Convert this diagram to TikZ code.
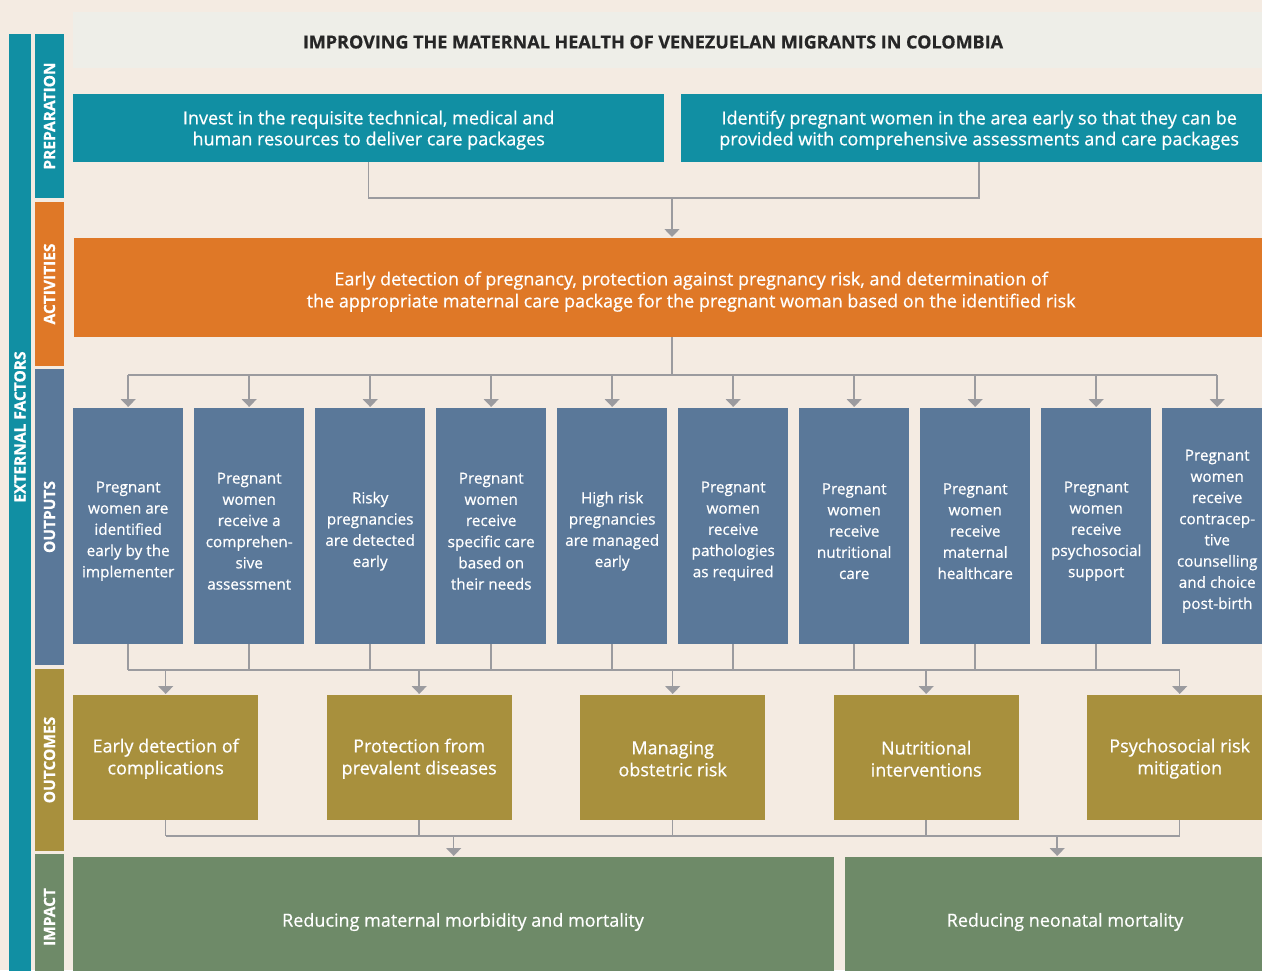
\documentclass[tikz,border=0pt]{standalone}
\usepackage{fontspec}
\setmainfont{Open Sans}[RawFeature={embolden=0.6}]
\usetikzlibrary{arrows.meta, positioning, calc}

\definecolor{paper}{HTML}{F4EBE2}
\definecolor{titlegrey}{HTML}{EEEEE8}
\definecolor{prepteal}{HTML}{118FA3}
\definecolor{actorange}{HTML}{DF7827}
\definecolor{outblue}{HTML}{5A7899}
\definecolor{olive}{HTML}{A8903D}
\definecolor{impgreen}{HTML}{6E8A68}
\definecolor{wiregrey}{HTML}{9B9B9F}

\begin{document}
\begin{tikzpicture}[x=1pt, y=-1pt,
    box/.style={fill=#1, inner sep=0pt, anchor=north west},
    boxtext/.style={text=white, inner sep=0pt, align=center},
    side/.style={fill=#1, text=white, inner sep=0pt, rotate=90, font=\fontsize{15.5}{18}\selectfont\bfseries},
    wire/.style={draw=wiregrey, line width=1.5pt},
    arr/.style={wire, -{Triangle[width=15pt,length=8pt]}, shorten >=1pt}]
    \useasboundingbox (0,0) rectangle (1262,970);
    \clip (0,0) rectangle (1262,970);
    \fill[paper] (0,0) rectangle (1262,970);

    % left hand bars
    \fill[prepteal] (9,34) rectangle (31,980);
    \node[rotate=90, text=white, font=\fontsize{15.5}{18}\selectfont\bfseries] (ext) at (20,427) {EXTERNAL FACTORS};
    \node[side=prepteal, minimum width=164pt, minimum height=29pt] (sPrep) at (49.5,116) {PREPARATION};
    \node[side=actorange, minimum width=164pt, minimum height=29pt] (sAct) at (49.5,284) {ACTIVITIES};
    \node[side=outblue, minimum width=296pt, minimum height=29pt] (sOut) at (49.5,517) {OUTPUTS};
    \node[side=olive, minimum width=182pt, minimum height=29pt] (sOc) at (49.5,760) {OUTCOMES};
    \node[side=impgreen, minimum width=126pt, minimum height=29pt] (sImp) at (49.5,917) {IMPACT};

    % heading
    \fill[titlegrey] (73,12) rectangle (1262,68);
    \node[text=black!85, font=\fontsize{18}{20}\selectfont\bfseries] (title) at (653,42) {IMPROVING THE MATERNAL HEALTH OF VENEZUELAN MIGRANTS IN COLOMBIA};

    % preparation
    \node[box=prepteal, minimum width=591pt, minimum height=68pt] (prepA) at (73,94) {};
    \node[box=prepteal, minimum width=596pt, minimum height=68pt] (prepB) at (681,94) {};
    \node[boxtext, font=\fontsize{18}{21}\selectfont] (prepA-t) at ([yshift=-2pt]prepA.center)
        {Invest in the requisite technical, medical and\\human resources to deliver care packages};
    \node[boxtext, font=\fontsize{18}{21}\selectfont] (prepB-t) at ([yshift=-2pt]prepB.center)
        {Identify pregnant women in the area early so that they can be\\provided with comprehensive assessments and care packages};

    % activities
    \node[box=actorange, minimum width=1234pt, minimum height=99pt] (act) at (74,238) {};
    \node[boxtext, font=\fontsize{18}{22}\selectfont] (act-t) at ([yshift=-4pt]act.center)
        {Early detection of pregnancy, protection against pregnancy risk, and determination of\\the appropriate maternal care package for the pregnant woman based on the identified risk};

    % outputs
    \foreach \i/\txt in {1/{Pregnant\\women are\\identified\\early by the\\implementer},
                        2/{Pregnant\\women\\receive a\\comprehen-\\sive\\assessment},
                        3/{Risky\\pregnancies\\are detected\\early},
                        4/{Pregnant\\women\\receive\\specific care\\based on\\their needs},
                        5/{High risk\\pregnancies\\are managed\\early},
                        6/{Pregnant\\women\\receive\\pathologies\\as required},
                        7/{Pregnant\\women\\receive\\nutritional\\care},
                        8/{Pregnant\\women\\receive\\maternal\\healthcare},
                        9/{Pregnant\\women\\receive\\psychosocial\\support},
                        10/{Pregnant\\women\\receive\\contracep-\\tive\\counselling\\and choice\\post-birth}}
    {
        \node[box=outblue, minimum width=110pt, minimum height=236pt] (out\i) at ({73+(\i-1)*121},408) {};
        \node[boxtext, font=\fontsize{15.3}{21.2}\selectfont] (out\i-t) at ([yshift=-5pt]out\i.center) {\txt};
    }

    % outcomes
    \foreach \j/\txt in {1/{Early detection of\\complications},
                        2/{Protection from\\prevalent diseases},
                        3/{Managing\\obstetric risk},
                        4/{Nutritional\\interventions},
                        5/{Psychosocial risk\\mitigation}}
    {
        \node[box=olive, minimum width=185pt, minimum height=125pt] (oc\j) at ({73+(\j-1)*253.5},695) {};
        \node[boxtext, font=\fontsize{18}{22}\selectfont] (oc\j-t) at ([yshift=-1pt]oc\j.center) {\txt};
    }

    % impact
    \node[box=impgreen, minimum width=761pt, minimum height=130pt] (impA) at (73,857) {};
    \node[box=impgreen, minimum width=430pt, minimum height=130pt] (impB) at (845,857) {};
    \node[boxtext, font=\fontsize{18}{22}\selectfont] (impA-t) at (463,922) {Reducing maternal morbidity and mortality};
    \node[boxtext, font=\fontsize{18}{22}\selectfont] (impB-t) at (1065,922) {Reducing neonatal mortality};

    % connectors
    \coordinate (j1) at (672,198);
    \coordinate (j2) at (672,375);
    \coordinate (j3) at (672,670);
    \coordinate (j4) at (672,836);

    \draw[wire] (prepA.south) |- (j1) -| (prepB.south);
    \draw[arr] (j1) -- (j1 |- act.north);

    \draw[wire] (j2 |- act.south) -- (j2);
    \draw[wire] (out1.north |- j2) -- (out10.north |- j2);
    \foreach \i in {1,...,10}
        \draw[arr] (out\i.north |- j2) -- (out\i.north);

    \foreach \i in {1,...,9}
        \draw[wire] (out\i.south) -- (out\i.south |- j3);
    \draw[wire] (out1.south |- j3) -- (oc5.north |- j3);
    \foreach \j in {1,...,5}
        \draw[arr] (oc\j.north |- j3) -- (oc\j.north);

    \foreach \j in {1,...,5}
        \draw[wire] (oc\j.south) -- (oc\j.south |- j4);
    \draw[wire] (oc1.south |- j4) -- (oc5.south |- j4);
    \draw[arr] (impA.north |- j4) -- (impA.north);
    \draw[arr] ([xshift=-3pt]impB.north |- j4) -- ([xshift=-3pt]impB.north);
\end{tikzpicture}
\end{document}
